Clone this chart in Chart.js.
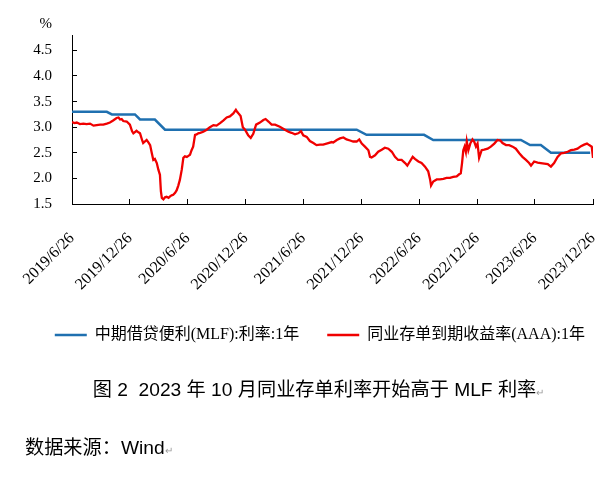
<!DOCTYPE html>
<html><head><meta charset="utf-8">
<script src="https://cdn.jsdelivr.net/npm/chart.js@4/dist/chart.umd.min.js"></script>
<style>
html,body{margin:0;padding:0;background:#fff;}
#wrap{position:relative;width:611px;height:477px;overflow:hidden;}
canvas{position:absolute;left:0;top:0;}
.cap{position:absolute;font-family:"Liberation Sans","Noto Sans CJK SC",sans-serif;font-size:19.2px;line-height:24px;color:#000;white-space:pre;}
.pm{font-size:10px;color:#9a9a9a;}
</style></head><body>
<div id="wrap"><canvas id="c" width="611" height="477"></canvas>
<div class="cap" style="left:0;width:637px;text-align:center;top:378px;">图 2  2023 年 10 月同业存单利率开始高于 MLF 利率<span class="pm">↵</span></div>
<div class="cap" style="left:25px;top:436px;">数据来源：Wind<span class="pm">↵</span></div>
</div>
<script>
// x values are days since 2019-06-26
const tickDays = [0,183,366,549,731,915,1097,1281,1463,1647];
const tickLabels = ['2019/6/26','2019/12/26','2020/6/26','2020/12/26','2021/6/26','2021/12/26','2022/6/26','2022/12/26','2023/6/26','2023/12/26'];
const yTicks = [1.5,2.0,2.5,3.0,3.5,4.0,4.5];

const mlfDays  = [0,110,126,199,215,262,294,900,931,1113,1142,1419,1448,1482,1514,1638];
const mlfRates = [3.30,3.30,3.25,3.25,3.15,3.15,2.95,2.95,2.85,2.85,2.75,2.75,2.65,2.65,2.50,2.50];

const redDays = [
0,8,15,25,36,46,57,68,78,89,
99,110,120,130,141,147,152,157,162,173,
183,190,194,204,210,215,222,225,236,242,
247,252,257,262,268,273,278,281,284,289,
294,299,305,310,315,320,326,331,336,341,
347,352,357,363,368,373,378,383,389,394,
399,405,415,426,436,447,457,468,478,489,
499,510,518,522,526,533,540,547,557,565,
573,582,594,605,612,621,631,642,657,673,
684,694,705,715,724,731,742,752,763,773,
784,794,810,821,826,837,847,858,868,879,
889,900,908,916,926,937,942,947,958,968,
979,989,1000,1011,1021,1031,1042,1053,1060,1068,
1077,1084,1095,1105,1116,1126,1132,1135,1142,1153,
1163,1174,1184,1195,1205,1216,1224,1229,1233,1237,
1241,1245,1248,1253,1259,1266,1272,1277,1282,1287,
1295,1303,1314,1324,1335,1345,1354,1361,1372,1382,
1393,1403,1414,1424,1435,1445,1451,1461,1472,1482,
1493,1504,1514,1524,1535,1546,1556,1567,1577,1588,
1598,1609,1619,1628,1635,1643,1647];
const redRates = [
3.10,3.08,3.09,3.06,3.07,3.06,3.07,3.03,3.04,3.05,
3.05,3.07,3.09,3.13,3.18,3.19,3.15,3.16,3.12,3.11,
3.05,2.92,2.88,2.93,2.90,2.88,2.74,2.69,2.75,2.70,
2.65,2.50,2.36,2.38,2.30,2.17,2.07,1.75,1.62,1.59,
1.63,1.64,1.62,1.65,1.67,1.68,1.72,1.77,1.86,1.97,
2.17,2.40,2.43,2.42,2.44,2.46,2.55,2.62,2.85,2.86,
2.88,2.89,2.91,2.95,3.00,3.04,3.03,3.08,3.13,3.19,
3.21,3.27,3.34,3.30,3.27,3.22,3.00,2.95,2.84,2.79,
2.87,3.05,3.09,3.14,3.16,3.11,3.05,3.05,3.01,2.95,
2.91,2.89,2.86,2.88,2.92,2.84,2.81,2.73,2.69,2.65,
2.66,2.66,2.69,2.71,2.70,2.75,2.78,2.80,2.76,2.74,
2.72,2.72,2.76,2.68,2.62,2.55,2.42,2.41,2.45,2.52,
2.56,2.60,2.58,2.52,2.42,2.36,2.36,2.30,2.25,2.33,
2.42,2.38,2.33,2.30,2.23,2.14,1.98,1.86,1.94,1.98,
1.98,1.99,2.01,2.01,2.03,2.04,2.08,2.10,2.30,2.55,
2.62,2.52,2.72,2.55,2.68,2.76,2.71,2.62,2.68,2.40,
2.55,2.56,2.58,2.62,2.68,2.75,2.74,2.69,2.65,2.65,
2.62,2.58,2.49,2.42,2.36,2.30,2.25,2.33,2.31,2.30,
2.29,2.28,2.23,2.30,2.42,2.49,2.50,2.52,2.55,2.56,
2.58,2.63,2.66,2.68,2.65,2.62,2.40];

const seriesNames = ['中期借贷便利(MLF):利率:1年','同业存单到期收益率(AAA):1年'];

const serif = '"Liberation Serif", "Times New Roman", serif';
const legendFont = '"Liberation Serif", "Noto Sans CJK SC", serif';

const pct = {
  id: 'pct',
  afterDraw(chart) {
    const c = chart.ctx, ys = chart.scales.y;
    c.save();
    c.font = '15px ' + serif;
    c.fillStyle = '#000';
    c.textAlign = 'right';
    c.textBaseline = 'middle';
    c.fillText('%', ys.right - 20, chart.chartArea.top - 11);
    c.restore();
  }
};

new Chart(document.getElementById('c'), {
  type: 'line',
  data: {
    datasets: [
      { label: seriesNames[0], data: mlfDays.map((d, i) => ({x: d, y: mlfRates[i]})),
        borderColor: '#1F70B0', backgroundColor: '#1F70B0', borderWidth: 2.5,
        pointRadius: 0, tension: 0, fill: false, order: 1 },
      { label: seriesNames[1], data: redDays.map((d, i) => ({x: d, y: redRates[i]})),
        borderColor: '#F00000', backgroundColor: '#F00000', borderWidth: 2.3,
        pointRadius: 0, tension: 0, fill: false, order: 0 }
    ]
  },
  options: {
    responsive: false, animation: false, devicePixelRatio: 1,
    layout: { padding: { left: 30, right: 18, top: 35, bottom: 124 } },
    plugins: {
      legend: {
        position: 'bottom', align: 'end',
        labels: {
          usePointStyle: true, pointStyle: 'line', pointStyleWidth: 32,
          padding: 8, color: '#000', font: { family: legendFont, size: 16 },
          generateLabels: chart => {
            const items = Chart.defaults.plugins.legend.labels.generateLabels(chart);
            items.sort((a, b) => a.datasetIndex - b.datasetIndex);
            items[0].text += '     ';
            return items;
          }
        }
      },
      tooltip: { enabled: false }
    },
    scales: {
      x: {
        type: 'linear', min: 0, max: 1647,
        afterFit: s => { s.height = 115; s.paddingRight = 0; s.paddingLeft = 0; },
        afterBuildTicks: s => { s.ticks = tickDays.map(v => ({value: v})); },
        ticks: { autoSkip: false, minRotation: 45, maxRotation: 45, padding: 30, color: '#000',
                 font: { family: serif, size: 16 },
                 callback: (v, i) => tickLabels[i] },
        grid: { drawOnChartArea: false, tickLength: -5, color: '#000', lineWidth: 1 },
        border: { color: '#000', width: 1 }
      },
      y: {
        min: 1.5, max: 4.8,
        afterFit: s => { s.width = 42; },
        afterBuildTicks: s => { s.ticks = yTicks.map(v => ({value: v})); },
        ticks: { autoSkip: false, padding: 25, color: '#000', font: { family: serif, size: 15 },
                 callback: v => Number(v).toFixed(1) },
        grid: { drawOnChartArea: false, tickLength: -5, color: '#000', lineWidth: 1 },
        border: { color: '#000', width: 1 }
      }
    }
  },
  plugins: [pct]
});
</script>
</body></html>
